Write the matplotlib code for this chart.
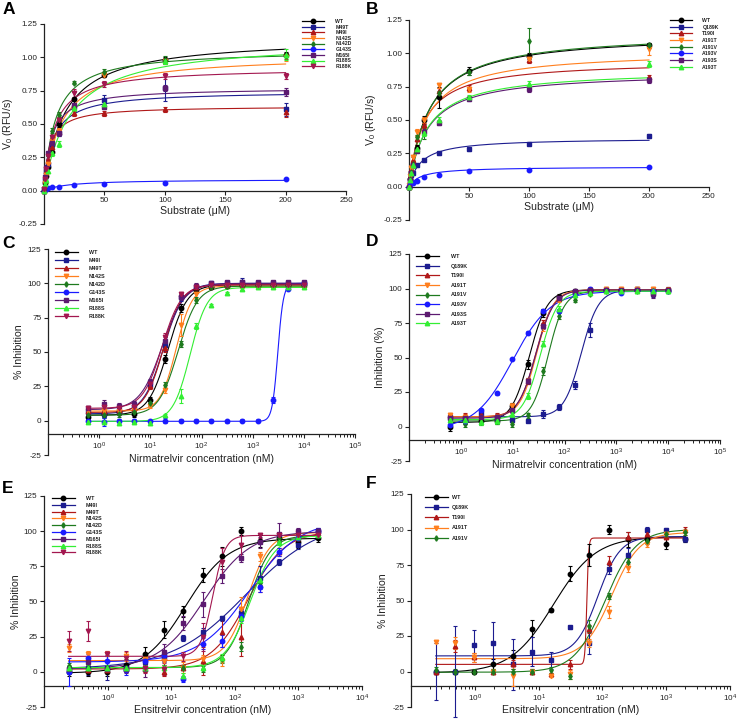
import numpy as np
import matplotlib
matplotlib.use('Agg')
import matplotlib.pyplot as plt
from matplotlib.lines import Line2D
from matplotlib.ticker import FixedLocator, NullFormatter, LogFormatterSciNotation, FormatStrFormatter

plt.rcParams['font.family'] = ['Liberation Sans', 'DejaVu Sans']
plt.rcParams['mathtext.default'] = 'regular'

# ---------------- colours / markers ----------------
C_BLACK = '#000000'
C_NAVY = '#1c1c8f'
C_RED = '#b01818'
C_ORANGE = '#ff7f1e'
C_DKGREEN = '#1e7a1e'
C_BLUE = '#1a1aff'
C_PURPLE = '#5c1a70'
C_GREEN = '#33ee33'
C_MAROON = '#a3174f'

# ---------------- Panel A data (Michaelis-Menten) ----------------
A_x = [0, 0.78, 1.56, 3.125, 6.25, 12.5, 25, 50, 100, 200]
A_names = ['WT', 'M49T', 'M49I', 'N142S', 'N142D', 'G143S', 'M165I', 'R188S', 'R188K']
A_colors = [C_BLACK, C_NAVY, C_RED, C_ORANGE, C_DKGREEN, C_BLUE, C_PURPLE, C_GREEN, C_MAROON]
A_markers = ['o', 's', '^', 'v', 'd', 'o', 's', '^', 'v']
A_vmax = [1.15, 0.747, 0.635, 1.019, 1.057, 0.085, 0.772, 1.129, 0.922]
A_km = [16.8, 7.4, 4.7, 14.5, 9.4, 20.0, 6.0, 21.4, 8.3]
A_y = [
    [0.00, 0.06, 0.11, 0.18, 0.29, 0.50, 0.69, 0.87, 0.98, 1.02],
    [0.01, 0.08, 0.14, 0.20, 0.35, 0.43, 0.63, 0.68, 0.77, 0.61],
    [0.00, 0.08, 0.15, 0.22, 0.33, 0.44, 0.58, 0.58, 0.61, 0.59],
    [0.01, 0.06, 0.12, 0.20, 0.37, 0.45, 0.62, 0.87, 0.97, 1.00],
    [0.02, 0.09, 0.16, 0.27, 0.45, 0.57, 0.81, 0.89, 0.98, 1.01],
    [0.00, 0.01, 0.015, 0.02, 0.025, 0.03, 0.045, 0.05, 0.055, 0.09],
    [0.01, 0.10, 0.17, 0.28, 0.36, 0.43, 0.64, 0.63, 0.77, 0.74],
    [0.00, 0.05, 0.08, 0.15, 0.28, 0.35, 0.62, 0.65, 0.97, 1.02],
    [0.01, 0.09, 0.16, 0.26, 0.40, 0.53, 0.73, 0.80, 0.86, 0.86],
]
A_err = [
    [0.02, 0.01, 0.01, 0.01, 0.02, 0.02, 0.05, 0.02, 0.02, 0.02],
    [0.02, 0.01, 0.01, 0.01, 0.02, 0.02, 0.03, 0.04, 0.10, 0.05],
    [0.01, 0.01, 0.01, 0.01, 0.02, 0.02, 0.02, 0.02, 0.02, 0.04],
    [0.01, 0.01, 0.01, 0.01, 0.02, 0.02, 0.02, 0.02, 0.02, 0.03],
    [0.01, 0.01, 0.01, 0.01, 0.02, 0.02, 0.01, 0.02, 0.03, 0.02],
    [0.005, 0.005, 0.005, 0.005, 0.005, 0.005, 0.005, 0.005, 0.005, 0.005],
    [0.02, 0.02, 0.02, 0.02, 0.02, 0.02, 0.02, 0.02, 0.02, 0.03],
    [0.02, 0.02, 0.02, 0.02, 0.02, 0.02, 0.02, 0.02, 0.02, 0.04],
    [0.02, 0.02, 0.02, 0.02, 0.02, 0.02, 0.03, 0.02, 0.02, 0.02],
]

# ---------------- Panel B data ----------------
B_x = [0, 0.78, 1.56, 3.125, 6.25, 12.5, 25, 50, 100, 200]
B_names = ['WT', 'Q189K', 'T190I', 'A191T', 'A191V', 'A193V', 'A193S', 'A193T']
B_colors = [C_BLACK, C_NAVY, C_RED, C_ORANGE, C_DKGREEN, C_BLUE, C_PURPLE, C_GREEN]
B_markers = ['o', 's', '^', 'v', 'd', 'o', 's', '^']
B_vmax = [1.15, 0.365, 0.945, 1.019, 1.16, 0.15, 0.861, 0.88]
B_km = [16.8, 10.0, 12.0, 14.5, 17.0, 10.0, 15.2, 15.5]
B_y = [
    [0.00, 0.06, 0.11, 0.17, 0.29, 0.50, 0.67, 0.87, 0.98, 1.06],
    [0.00, 0.05, 0.09, 0.10, 0.16, 0.20, 0.25, 0.28, 0.32, 0.38],
    [0.00, 0.07, 0.13, 0.20, 0.36, 0.46, 0.72, 0.74, 0.95, 0.82],
    [0.01, 0.08, 0.14, 0.22, 0.41, 0.50, 0.76, 0.73, 0.96, 1.03],
    [0.00, 0.06, 0.11, 0.17, 0.37, 0.41, 0.70, 0.86, 1.09, 1.06],
    [0.00, 0.02, 0.03, 0.03, 0.045, 0.07, 0.09, 0.115, 0.125, 0.15],
    [0.00, 0.05, 0.10, 0.16, 0.27, 0.41, 0.48, 0.66, 0.73, 0.80],
    [0.00, 0.05, 0.10, 0.16, 0.28, 0.40, 0.50, 0.67, 0.77, 0.92],
]
B_err = [
    [0.02, 0.01, 0.01, 0.01, 0.02, 0.03, 0.08, 0.03, 0.02, 0.02],
    [0.01, 0.01, 0.01, 0.01, 0.01, 0.01, 0.01, 0.01, 0.01, 0.015],
    [0.02, 0.02, 0.02, 0.02, 0.02, 0.02, 0.02, 0.02, 0.02, 0.02],
    [0.02, 0.02, 0.02, 0.02, 0.02, 0.02, 0.02, 0.02, 0.02, 0.04],
    [0.02, 0.02, 0.02, 0.02, 0.02, 0.05, 0.02, 0.02, 0.10, 0.02],
    [0.005, 0.005, 0.005, 0.005, 0.005, 0.005, 0.005, 0.005, 0.005, 0.005],
    [0.02, 0.02, 0.02, 0.02, 0.02, 0.02, 0.02, 0.02, 0.02, 0.02],
    [0.02, 0.02, 0.02, 0.02, 0.02, 0.02, 0.02, 0.02, 0.02, 0.02],
]

# ---------------- Panel C data (Nirmatrelvir, 4PL) ----------------
C_x = [0.61, 1.22, 2.44, 4.88, 9.77, 19.5, 39.1, 78.1, 156, 312, 625, 1250, 2500, 5000, 10000]
C_names = ['WT', 'M49I', 'M49T', 'N142S', 'N142D', 'G143S', 'M165I', 'R188S', 'R188K']
C_colors = [C_BLACK, C_NAVY, C_RED, C_ORANGE, C_DKGREEN, C_BLUE, C_PURPLE, C_GREEN, C_MAROON]
C_markers = ['o', 's', '^', 'v', 'd', 'o', 's', '^', 'v']
C_bottom = [4, 5, 6, 7, 4, -0.5, 8, -0.5, 9]
C_top = [99, 100, 99, 98, 98, 100, 100, 97, 99]
C_ic50 = [22, 18, 18, 32, 35, 3100, 17, 60, 17]
C_hill = [2.3, 2.2, 2.4, 2.8, 2.3, 8.0, 2.0, 2.6, 2.3]
C_y = [
    [3, 5, 6, 5, 15, 45, 82, 95, 97, 98, 99, 99, 99, 99, 99],
    [6, 5, 7, 10, 26, 55, 90, 97, 100, 100, 101, 100, 100, 100, 100],
    [7, 7, 8, 9, 25, 53, 92, 97, 99, 99, 99, 99, 99, 99, 99],
    [7, 7, 7, 8, 11, 22, 70, 92, 97, 98, 98, 98, 98, 98, 98],
    [4, 4, 5, 6, 13, 26, 56, 88, 97, 98, 98, 98, 98, 98, 98],
    [-0.5, -1, 0, 0, -0.5, 0, 0, 0, 0, -0.5, 0, 0, 15, 96, 100],
    [9, 12, 11, 12, 28, 58, 90, 98, 100, 101, 101, 101, 101, 101, 101],
    [-1, -1, -2, -1, -2, 4, 18, 69, 84, 93, 96, 97, 97, 97, 97],
    [9, 10, 9, 10, 27, 61, 92, 97, 99, 99, 99, 99, 99, 99, 99],
]
C_err = [
    [2, 2, 2, 2, 2, 3, 3, 2, 1, 1, 1, 1, 1, 1, 1],
    [2, 2, 2, 2, 2, 4, 3, 2, 2, 1, 3, 1, 2, 1, 2],
    [2, 2, 2, 2, 2, 3, 2, 2, 1, 1, 1, 1, 1, 1, 1],
    [2, 2, 2, 2, 2, 2, 8, 3, 1, 1, 1, 1, 1, 1, 1],
    [2, 2, 2, 2, 2, 2, 2, 2, 1, 1, 1, 1, 1, 1, 1],
    [1, 3, 1, 1, 1, 2, 1, 1, 1, 1, 1, 1, 2, 1, 1],
    [2, 3, 2, 2, 2, 3, 2, 2, 1, 1, 1, 1, 1, 1, 1],
    [1, 1, 1, 1, 1, 1, 5, 2, 1, 1, 1, 1, 1, 1, 1],
    [2, 2, 2, 2, 2, 3, 2, 2, 1, 1, 1, 1, 1, 1, 1],
]

# ---------------- Panel D data ----------------
D_x = [0.61, 1.22, 2.44, 4.88, 9.77, 19.5, 39.1, 78.1, 156, 312, 625, 1250, 2500, 5000, 10000]
D_names = ['WT', 'Q189K', 'T190I', 'A191T', 'A191V', 'A193V', 'A193S', 'A193T']
D_colors = [C_BLACK, C_NAVY, C_RED, C_ORANGE, C_DKGREEN, C_BLUE, C_PURPLE, C_GREEN]
D_markers = ['o', 's', '^', 'v', 'd', 'o', 's', '^']
D_bottom = [3, 7, 7, 7, 4, -2, 6, 5]
D_top = [99, 99, 99, 99, 98, 98, 99, 98]
D_ic50 = [21, 210, 28, 29, 48, 10, 28, 34]
D_hill = [2.5, 2.6, 2.6, 2.7, 2.8, 1.2, 2.5, 2.6]
D_y = [
    [0, 4, 4, 4, 15, 45, 82, 94, 98, 99, 99, 99, 99, 99, 99],
    [7, 6, 10, 6, 5, 4, 9, 14, 30, 70, 99, 99, 100, 97, 99],
    [8, 8, 8, 8, 13, 33, 75, 93, 98, 99, 100, 100, 100, 100, 100],
    [8, 7, 6, 7, 15, 33, 72, 92, 97, 99, 100, 100, 100, 100, 99],
    [3, 2, 3, 4, 2, 8, 40, 80, 92, 96, 98, 98, 98, 98, 98],
    [1, 4, 12, 24, 49, 68, 84, 84, 96, 100, 99, 97, 99, 98, 98],
    [6, 6, 7, 7, 12, 33, 73, 93, 98, 99, 99, 99, 99, 96, 99],
    [5, 5, 3, 4, 9, 22, 60, 85, 95, 97, 98, 98, 98, 98, 98],
]
D_err = [
    [3, 2, 2, 2, 2, 3, 3, 2, 1, 1, 1, 1, 1, 1, 1],
    [2, 2, 2, 2, 2, 1, 3, 2, 3, 5, 1, 1, 1, 3, 2],
    [2, 2, 2, 2, 2, 2, 2, 2, 1, 1, 1, 1, 1, 1, 1],
    [2, 2, 2, 2, 2, 2, 3, 2, 1, 1, 1, 1, 1, 1, 1],
    [2, 2, 2, 2, 2, 2, 3, 2, 2, 1, 1, 1, 1, 1, 1],
    [1, 1, 1, 1, 1, 1, 1, 1, 1, 1, 1, 1, 1, 1, 1],
    [2, 2, 2, 2, 2, 2, 2, 2, 1, 1, 1, 1, 1, 3, 1],
    [2, 2, 2, 2, 2, 2, 2, 2, 1, 1, 1, 1, 1, 1, 1],
]

# ---------------- Panel E data (Ensitrelvir) ----------------
E_x = [0.244, 0.488, 0.977, 1.95, 3.91, 7.81, 15.6, 31.25, 62.5, 125, 250, 500, 1000, 2000]
E_names = ['WT', 'M49I', 'M49T', 'N142S', 'N142D', 'G143S', 'M165I', 'R188S', 'R188K']
E_colors = [C_BLACK, C_NAVY, C_RED, C_ORANGE, C_DKGREEN, C_BLUE, C_PURPLE, C_GREEN, C_MAROON]
E_markers = ['o', 's', '^', 'v', 'd', 'o', 's', '^', 'v']
E_bottom = [-1, 2, 2, 8, 3, 7, 2, 3, 11]
E_top = [95, 108, 100, 99, 97, 108, 100, 97, 97]
E_ic50 = [17, 150, 160, 160, 165, 170, 33, 175, 45]
E_hill = [1.3, 0.75, 1.5, 2.5, 2.5, 1.1, 1.2, 2.2, 4.5]
E_y = [
    [0, 0, 0, 5, 13, 30, 43, 69, 82, 100, 93, 95, 92, 95],
    [2, 3, 3, 3, 7, 10, 24, 28, 38, 42, 67, 78, 90, 100],
    [1, 1, 1, 2, 2, 0, 3, 8, 28, 25, 62, 85, 95, 99],
    [17, 13, 13, 11, 9, 8, 3, 9, 8, 45, 82, 97, 99, 99],
    [4, 3, 3, 3, 3, 3, 3, 2, 9, 18, 63, 95, 96, 97],
    [0, 10, 8, 1, 8, 12, -5, 20, 22, 40, 60, 85, 95, 100],
    [2, 7, 2, 2, 2, 14, 35, 48, 68, 81, 92, 98, 100, 100],
    [3, 3, 3, 3, 3, 3, -3, 3, 10, 38, 65, 92, 96, 97],
    [22, 29, 13, 10, 3, 2, 11, 25, 78, 90, 97, 97, 97, 97],
]
E_err = [
    [3, 3, 3, 4, 5, 6, 4, 5, 7, 3, 4, 3, 4, 3],
    [2, 5, 9, 3, 3, 3, 2, 3, 2, 3, 8, 2, 3, 2],
    [2, 2, 2, 2, 2, 3, 2, 10, 10, 14, 5, 3, 3, 2],
    [3, 2, 2, 3, 2, 3, 4, 3, 4, 8, 3, 2, 2, 2],
    [2, 2, 2, 2, 2, 2, 2, 2, 3, 3, 3, 2, 2, 2],
    [10, 3, 3, 3, 3, 3, 2, 4, 4, 4, 3, 3, 2, 2],
    [2, 3, 2, 3, 6, 6, 5, 9, 5, 3, 4, 8, 2, 2],
    [2, 2, 2, 2, 2, 2, 2, 2, 3, 3, 3, 2, 2, 2],
    [7, 7, 2, 5, 4, 4, 3, 10, 10, 10, 2, 2, 2, 2],
]

# ---------------- Panel F data ----------------
F_x = [0.244, 0.488, 0.977, 1.95, 3.91, 7.81, 15.6, 31.25, 62.5, 125, 250, 500, 1000, 2000]
F_names = ['WT', 'Q189K', 'T190I', 'A191T', 'A191V']
F_colors = [C_BLACK, C_NAVY, C_RED, C_ORANGE, C_DKGREEN]
F_markers = ['o', 's', '^', 'v', 'd']
F_bottom = [-1, 11, 5, 9, -0.5]
F_top = [95, 95, 94, 98, 100]
F_ic50 = [17, 85, 57, 140, 110]
F_hill = [1.3, 2.5, 30, 2.0, 1.8]
F_y = [
    [0, 0, 0, 5, 11, 30, 43, 69, 82, 100, 93, 93, 90, 93],
    [0, 0, 19, 20, 5, 14, 8, 31, 20, 72, 82, 100, 100, 93],
    [0, 18, 10, 0, 5, 0, -2, 5, 30, 77, 95, 97, 95, 100],
    [21, 20, 10, 0, -3, 0, -3, -2, 20, 42, 73, 90, 97, 98],
    [1, 0, 0, 0, 0, 0, 1, -3, 32, 53, 77, 92, 97, 98],
]
F_err = [
    [1, 1, 1, 4, 4, 6, 1, 5, 8, 3, 5, 2, 4, 2],
    [20, 32, 10, 15, 18, 10, 6, 1, 8, 3, 5, 2, 1, 2],
    [1, 4, 3, 2, 3, 2, 1, 3, 3, 4, 3, 2, 2, 2],
    [1, 4, 3, 2, 7, 2, 1, 3, 3, 4, 3, 2, 2, 2],
    [2, 2, 2, 2, 2, 2, 2, 2, 4, 2, 3, 2, 2, 2],
]

# ---------------- helpers ----------------
W, H = 738, 724
fig = plt.figure(figsize=(W / 100, H / 100), dpi=100)
fig.patch.set_facecolor('white')

AX_COLOR = '#222222'
TICK_FS = 5.9
LABEL_FS = 7.6
MS = 3.2


def px_rect(x0, x1, ytop, ybot):
    return [x0 / W, 1 - ybot / H, (x1 - x0) / W, (ybot - ytop) / H]


def mm(x, vmax, km):
    return vmax * x / (km + x)


def fourpl(x, bottom, top, ic50, hill):
    return bottom + (top - bottom) / (1 + (ic50 / x) ** hill)


def draw_series(ax, x, ys, errs, colors, markers, curves, log):
    x = np.asarray(x, dtype=float)
    if log:
        xx = np.geomspace(x.min(), x.max(), 600)
    else:
        xx = np.linspace(x.min(), x.max(), 600)
    for y, e, c, m, cf in zip(ys, errs, colors, markers, curves):
        ms = MS * 0.85 if m == 'd' else MS
        ax.plot(xx, cf(xx), color=c, lw=0.8, zorder=2)
        ax.errorbar(x, y, yerr=e, fmt=m, color=c, ms=ms, mec=c, mfc=c,
                    elinewidth=0.8, capsize=1.3, capthick=0.8, zorder=3,
                    clip_on=False)


def style_axes(ax, ylim, yticks, yfmt, xaxis_at):
    for s in ['top', 'right']:
        ax.spines[s].set_visible(False)
    for s in ['left', 'bottom']:
        ax.spines[s].set_color(AX_COLOR)
        ax.spines[s].set_linewidth(0.9)
    ax.spines['bottom'].set_position(('data', xaxis_at))
    ax.set_ylim(*ylim)
    ax.set_yticks(yticks)
    ax.yaxis.set_major_formatter(FormatStrFormatter(yfmt))
    ax.tick_params(axis='both', which='major', direction='out', length=3.2, width=0.8,
                   colors=AX_COLOR, labelsize=TICK_FS, pad=1.5)
    ax.tick_params(axis='both', which='minor', direction='out', length=1.8, width=0.7,
                   colors=AX_COLOR)
    ax.patch.set_alpha(0)


def set_log_x(ax, dec_lo, dec_hi):
    ax.set_xscale('log')
    ax.set_xlim(10.0 ** dec_lo, 10.0 ** dec_hi)
    majors = [10.0 ** k for k in range(dec_lo + 1, dec_hi + 1)]
    minors = [m * 10.0 ** k for k in range(dec_lo, dec_hi) for m in range(2, 10)]
    ax.xaxis.set_major_locator(FixedLocator(majors))
    ax.xaxis.set_minor_locator(FixedLocator(minors))
    ax.xaxis.set_major_formatter(LogFormatterSciNotation())
    ax.xaxis.set_minor_formatter(NullFormatter())


def add_legend(ax, names, colors, markers, x_px, ytop_px, spacing, textpad, fs=3.9):
    handles = []
    for c, m in zip(colors, markers):
        ms = MS * 0.85 if m == 'd' else MS
        handles.append(Line2D([], [], color=c, lw=0.9, marker=m, ms=ms, mfc=c, mec=c))
    leg = ax.legend(handles, names, loc='upper left',
                    bbox_to_anchor=(x_px / W, 1 - ytop_px / H),
                    bbox_transform=fig.transFigure, frameon=False,
                    prop={'size': fs, 'weight': 'bold'}, handlelength=4.2,
                    handletextpad=textpad, labelspacing=spacing, borderpad=0,
                    borderaxespad=0, numpoints=1)
    for t in leg.get_texts():
        t.set_color('#222222')
    return leg


def panel_letter(x_px, y_px, s):
    fig.text(x_px / W, 1 - y_px / H, s, fontsize=12.5, fontweight='bold',
             ha='left', va='top', color='black')


# ---------------- Panel A ----------------
axA = fig.add_axes(px_rect(44, 346, 24, 224))
draw_series(axA, A_x, A_y, A_err, A_colors, A_markers,
            [lambda x, v=v, k=k: mm(x, v, k) for v, k in zip(A_vmax, A_km)], False)
axA.set_xlim(0, 250)
axA.set_xticks([50, 100, 150, 200, 250])
style_axes(axA, (-0.25, 1.25), np.arange(-0.25, 1.26, 0.25), '%.2f', 0)
axA.set_xlabel('Substrate (μM)', fontsize=LABEL_FS, labelpad=1, color=AX_COLOR)
axA.set_ylabel('V$_0$ (RFU/s)', fontsize=LABEL_FS, labelpad=3, color=AX_COLOR)
add_legend(axA, A_names, A_colors, A_markers, 302, 19, 0.12, 2.3, fs=3.7)

# ---------------- Panel B ----------------
axB = fig.add_axes(px_rect(409, 709, 20, 220))
draw_series(axB, B_x, B_y, B_err, B_colors, B_markers,
            [lambda x, v=v, k=k: mm(x, v, k) for v, k in zip(B_vmax, B_km)], False)
axB.set_xlim(0, 250)
axB.set_xticks([50, 100, 150, 200, 250])
style_axes(axB, (-0.25, 1.25), np.arange(-0.25, 1.26, 0.25), '%.2f', 0)
axB.set_xlabel('Substrate (μM)', fontsize=LABEL_FS, labelpad=1, color=AX_COLOR)
axB.set_ylabel('V$_0$ (RFU/s)', fontsize=LABEL_FS, labelpad=4, color=AX_COLOR)
add_legend(axB, B_names, B_colors, B_markers, 670, 18, 0.32, 2.1, fs=3.7)

# ---------------- Panel C ----------------
axC = fig.add_axes(px_rect(48, 355, 249, 455))
draw_series(axC, C_x, C_y, C_err, C_colors, C_markers,
            [lambda x, b=b, t=t, i=i, h=h: fourpl(x, b, t, i, h)
             for b, t, i, h in zip(C_bottom, C_top, C_ic50, C_hill)], True)
set_log_x(axC, -1, 5)
style_axes(axC, (-25, 125), [-25, 0, 25, 50, 75, 100, 125], '%d', -10)
axC.set_xlabel('Nirmatrelvir concentration (nM)', fontsize=LABEL_FS, labelpad=1, color=AX_COLOR)
axC.set_ylabel('% Inhibition', fontsize=LABEL_FS, labelpad=3, color=AX_COLOR)
add_legend(axC, C_names, C_colors, C_markers, 55, 250, 0.55, 2.0)

# ---------------- Panel D ----------------
axD = fig.add_axes(px_rect(409, 720, 254, 461))
draw_series(axD, D_x, D_y, D_err, D_colors, D_markers,
            [lambda x, b=b, t=t, i=i, h=h: fourpl(x, b, t, i, h)
             for b, t, i, h in zip(D_bottom, D_top, D_ic50, D_hill)], True)
set_log_x(axD, -1, 5)
style_axes(axD, (-25, 125), [-25, 0, 25, 50, 75, 100, 125], '%d', -10)
axD.set_xlabel('Nirmatrelvir concentration (nM)', fontsize=LABEL_FS, labelpad=1, color=AX_COLOR)
axD.set_ylabel('Inhibition (%)', fontsize=LABEL_FS, labelpad=3, color=AX_COLOR)
add_legend(axD, D_names, D_colors, D_markers, 416, 254, 0.85, 2.2)

# ---------------- Panel E ----------------
axE = fig.add_axes(px_rect(44, 362, 496, 707))
draw_series(axE, E_x, E_y, E_err, E_colors, E_markers,
            [lambda x, b=b, t=t, i=i, h=h: fourpl(x, b, t, i, h)
             for b, t, i, h in zip(E_bottom, E_top, E_ic50, E_hill)], True)
set_log_x(axE, -1, 4)
style_axes(axE, (-25, 125), [-25, 0, 25, 50, 75, 100, 125], '%d', -10)
axE.set_xlabel('Ensitrelvir concentration (nM)', fontsize=LABEL_FS, labelpad=1, color=AX_COLOR)
axE.set_ylabel('% Inhibition', fontsize=LABEL_FS, labelpad=2, color=AX_COLOR)
add_legend(axE, E_names, E_colors, E_markers, 52, 496, 0.33, 2.1)

# ---------------- Panel F ----------------
axF = fig.add_axes(px_rect(411, 730, 494, 707))
draw_series(axF, F_x, F_y, F_err, F_colors, F_markers,
            [lambda x, b=b, t=t, i=i, h=h: fourpl(x, b, t, i, h)
             for b, t, i, h in zip(F_bottom, F_top, F_ic50, F_hill)], True)
set_log_x(axF, -1, 4)
style_axes(axF, (-25, 125), [-25, 0, 25, 50, 75, 100, 125], '%d', -10)
axF.set_xlabel('Ensitrelvir concentration (nM)', fontsize=LABEL_FS, labelpad=1, color=AX_COLOR)
axF.set_ylabel('% Inhibition', fontsize=LABEL_FS, labelpad=2, color=AX_COLOR)
add_legend(axF, F_names, F_colors, F_markers, 425, 495, 0.95, 0.8)

# ---------------- panel letters ----------------
panel_letter(3, 2, 'A')
panel_letter(366, 2, 'B')
panel_letter(2, 236, 'C')
panel_letter(366, 234, 'D')
panel_letter(2, 481, 'E')
panel_letter(366, 476, 'F')

fig.savefig('out.png', dpi=100, facecolor='white')
